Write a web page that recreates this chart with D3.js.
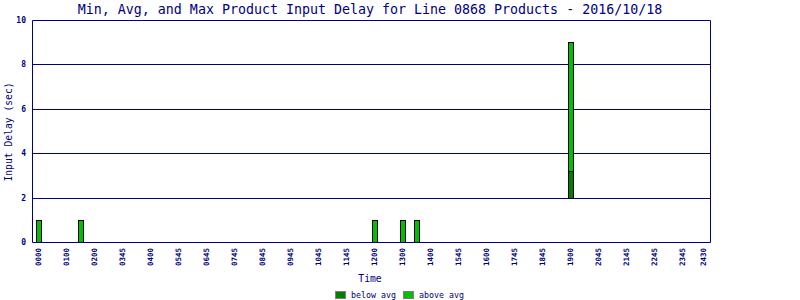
<!DOCTYPE html>
<html><head><meta charset="utf-8">
<script src="https://cdn.jsdelivr.net/npm/d3@7"></script>
<style>body{margin:0;background:#fff}svg{display:block}</style>
</head><body>
<svg id="c" width="800" height="300"></svg>
<script>
const titleText = "Min, Avg, and Max Product Input Delay for Line 0868 Products - 2016/10/18";
const hours = [0, 1.5, 12, 13, 13.5, 19];
const minVals = [0, 0, 0, 0, 0, 2];
const avgVals = [0, 0, 0, 0, 0, 3.2];
const maxVals = [1, 1, 1, 1, 1, 9];
const tickLabels = ["0000","0100","0200","0345","0400","0545","0645","0745","0845","0945","1045","1145","1200","1300","1400","1545","1600","1745","1845","1900","2045","2145","2245","2345","2430"];
const tickHours = [0,1,2,3,4,5,6,7,8,9,10,11,12,13,14,15,16,17,18,19,20,21,22,23,23.75];
const yTicks = [0, 2, 4, 6, 8, 10];
const seriesNames = ["below avg", "above avg"];

const navy = "#000080", dark = "#008000", light = "#00c000";
const svg = d3.select("#c");
const L = 32, R = 710, T = 20, B = 242;
const x = d3.scaleLinear().domain([-0.225, 24]).range([L, R]);
const y = d3.scaleLinear().domain([0, 10]).range([B, T]);
const mono = "'DejaVu Sans Mono', monospace";

// title
svg.append("text").attr("x", 370).attr("y", 14).attr("text-anchor", "middle")
  .attr("font-family", mono).attr("font-size", 13.3).attr("fill", navy).text(titleText);

// gridlines
svg.append("g").selectAll("line").data(yTicks.filter(d => d > 0 && d < 10)).join("line")
  .attr("x1", L).attr("x2", R).attr("y1", d => Math.round(y(d)) + 0.5).attr("y2", d => Math.round(y(d)) + 0.5)
  .attr("stroke", navy).attr("stroke-width", 1);

// bars
const data = hours.map((h, i) => ({h, mn: minVals[i], av: avgVals[i], mx: maxVals[i]}));
const bw = 5;
const gb = svg.append("g");
data.forEach(d => {
  const bx = Math.round(x(d.h) - bw / 2) + 0.5;
  if (d.av > d.mn) {
    gb.append("rect").attr("x", bx).attr("y", Math.round(y(d.av)) + 0.5)
      .attr("width", bw).attr("height", Math.round(y(d.mn)) - Math.round(y(d.av)))
      .attr("fill", dark).attr("stroke", "#000").attr("stroke-width", 1);
  }
  gb.append("rect").attr("x", bx).attr("y", Math.round(y(d.mx)) + 0.5)
    .attr("width", bw).attr("height", Math.round(y(d.av)) - Math.round(y(d.mx)))
    .attr("fill", light).attr("stroke", "#000").attr("stroke-width", 1);
});

// frame
svg.append("path").attr("d", `M${L + 0.5},${B + 0.5}V${T + 0.5}H${R + 0.5}V${B + 0.5}H${L + 0.5}`)
  .attr("fill", "none").attr("stroke", navy).attr("stroke-width", 1);

// y axis labels
const yAxis = d3.axisLeft(y).tickValues(yTicks).tickSize(0).tickPadding(6);
const gy = svg.append("g").attr("transform", `translate(${L},0)`).call(yAxis);
gy.select(".domain").remove();
gy.selectAll("text").attr("font-family", mono).attr("font-size", 8).attr("font-weight", "bold").attr("fill", navy);

// x axis labels
const xAxis = d3.axisBottom(x).tickValues(tickHours).tickSize(0).tickFormat((d, i) => tickLabels[i]);
const gx = svg.append("g").attr("transform", `translate(0,${B})`).call(xAxis);
gx.select(".domain").remove();
gx.selectAll("text").attr("font-family", mono).attr("font-size", 7.5).attr("font-weight", "bold").attr("fill", navy)
  .attr("transform", "rotate(-90)").attr("text-anchor", "end").attr("x", -6).attr("y", 0).attr("dy", "0.35em");

// axis titles
svg.append("text").attr("transform", "translate(12,132) rotate(-90)").attr("text-anchor", "middle")
  .attr("font-family", mono).attr("font-size", 9.7).attr("fill", navy).text("Input Delay (sec)");
svg.append("text").attr("x", 370).attr("y", 282).attr("text-anchor", "middle")
  .attr("font-family", mono).attr("font-size", 9.7).attr("fill", navy).text("Time");

// legend
const lg = svg.append("g");
const legX = [335, 403];
seriesNames.forEach((n, i) => {
  lg.append("rect").attr("x", legX[i] + 0.5).attr("y", 291.5).attr("width", 10).attr("height", 7)
    .attr("fill", i === 0 ? dark : light).attr("stroke", "#808080");
  lg.append("text").attr("x", legX[i] + 16).attr("y", 298).attr("font-family", mono).attr("font-size", 8.3)
    .attr("fill", navy).text(n);
});
</script>
</body></html>
